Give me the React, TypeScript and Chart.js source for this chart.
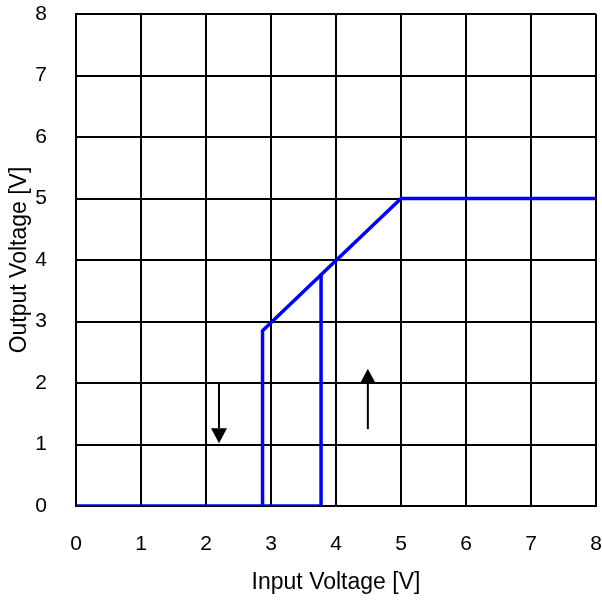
import React, { useEffect, useRef } from "react";
import { Chart, registerables } from "chart.js";

Chart.register(...registerables);

// Hysteresis transfer curve (Input Voltage vs Output Voltage)
const risingInput = [0, 3.77, 3.77, 5.0, 8];
const risingOutput = [0, 0, 3.76, 5.0, 5.0];
const fallingInput = [2.87, 2.87, 3.77];
const fallingOutput = [0, 2.85, 3.76];

// Direction arrows (x position, start y, tip y)
const arrowX = [2.2, 4.49];
const arrowFromY = [2.0, 1.25];
const arrowToY = [1.02, 2.23];

const axisMin = 0;
const axisMax = 8;
const xTitle = "Input Voltage [V]";
const yTitle = "Output Voltage [V]";

const FONT = "'Liberation Sans', Arial, Helvetica, sans-serif";

const arrowPlugin = {
  id: "arrows",
  afterDatasetsDraw(chart: any) {
    const { ctx, scales } = chart;
    const xs = scales.x;
    const ys = scales.y;
    ctx.save();
    ctx.strokeStyle = "#000";
    ctx.fillStyle = "#000";
    ctx.lineWidth = 2;
    for (let i = 0; i < arrowX.length; i++) {
      const px = xs.getPixelForValue(arrowX[i]);
      const y0 = ys.getPixelForValue(arrowFromY[i]);
      const y1 = ys.getPixelForValue(arrowToY[i]);
      const dir = y1 > y0 ? 1 : -1;
      const headH = 15;
      const headW = 8;
      ctx.beginPath();
      ctx.moveTo(px, y0);
      ctx.lineTo(px, y1 - dir * headH);
      ctx.stroke();
      ctx.beginPath();
      ctx.moveTo(px, y1);
      ctx.lineTo(px - headW, y1 - dir * headH);
      ctx.lineTo(px + headW, y1 - dir * headH);
      ctx.closePath();
      ctx.fill();
    }
    ctx.restore();
  },
};

export default function App() {
  const ref = useRef<HTMLCanvasElement>(null);
  useEffect(() => {
    if (!ref.current) return;
    const toPts = (xs: number[], ys: number[]) => xs.map((x, i) => ({ x, y: ys[i] }));
    const chart = new Chart(ref.current, {
      type: "scatter",
      data: {
        datasets: [
          {
            data: toPts(risingInput, risingOutput),
            showLine: true,
            borderColor: "rgb(0,0,255)",
            borderWidth: 3.5,
            pointRadius: 0,
            tension: 0,
          },
          {
            data: toPts(fallingInput, fallingOutput),
            showLine: true,
            borderColor: "rgb(0,0,255)",
            borderWidth: 3.5,
            pointRadius: 0,
            tension: 0,
          },
        ],
      },
      options: {
        responsive: false,
        animation: false,
        layout: { padding: { left: 0, right: 6, top: 14, bottom: 0 } },
        plugins: { legend: { display: false }, tooltip: { enabled: false } },
        scales: {
          x: {
            type: "linear",
            min: axisMin,
            max: axisMax,
            ticks: {
              stepSize: 1,
              padding: 26,
              color: "#000",
              font: { family: FONT, size: 21 },
            },
            grid: { color: "#000", lineWidth: 2, drawTicks: false },
            border: { color: "#000", width: 2 },
            title: {
              display: true,
              text: xTitle,
              color: "#000",
              font: { family: FONT, size: 23 },
              padding: { top: 0, bottom: 5 },
            },
            afterFit(scale: any) {
              scale.height = 95;
              scale.paddingLeft = 0;
              scale.paddingRight = 0;
            },
          },
          y: {
            type: "linear",
            min: axisMin,
            max: axisMax,
            ticks: {
              stepSize: 1,
              padding: 29,
              color: "#000",
              font: { family: FONT, size: 21 },
            },
            grid: { color: "#000", lineWidth: 2, drawTicks: false },
            border: { color: "#000", width: 2 },
            title: {
              display: true,
              text: yTitle,
              color: "#000",
              font: { family: FONT, size: 23 },
              padding: { top: 6, bottom: 0 },
            },
            afterFit(scale: any) {
              scale.width = 76;
              scale.paddingTop = 0;
              scale.paddingBottom = 0;
            },
          },
        },
      },
      plugins: [arrowPlugin],
    });
    return () => chart.destroy();
  }, []);
  return (
    <div style={{ position: "absolute", left: 0, top: 0, width: 602, height: 601, background: "#fff" }}>
      <canvas ref={ref} width={602} height={601} style={{ display: "block" }} />
    </div>
  );
}
